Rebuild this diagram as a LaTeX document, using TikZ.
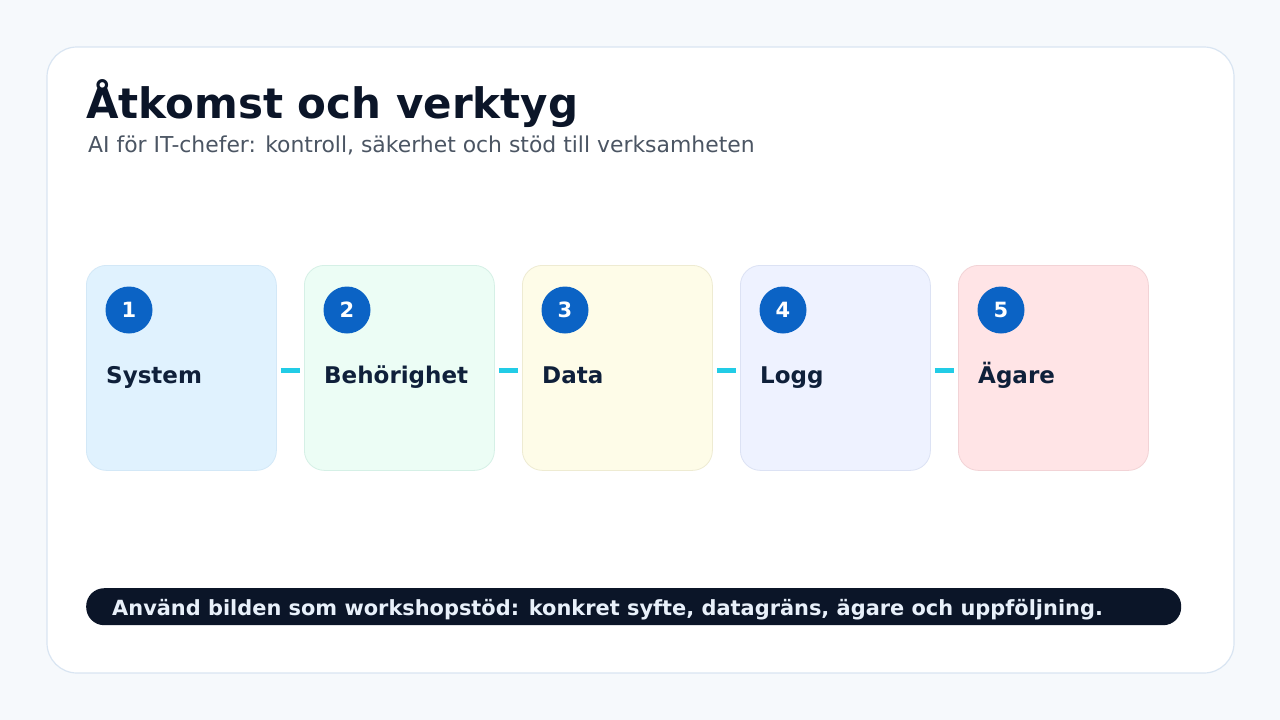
\documentclass[tikz,border=0pt]{standalone}
\usepackage{fontspec}
\setmainfont{DejaVu Sans}
\definecolor{bgc}{HTML}{F6F9FC}
\definecolor{cardline}{HTML}{D9E5F2}
\definecolor{titlec}{HTML}{0B1528}
\definecolor{subc}{HTML}{4B5563}
\definecolor{circc}{HTML}{0B63C5}
\definecolor{labc}{HTML}{0F203A}
\definecolor{conc}{HTML}{22CCE6}
\definecolor{fa}{HTML}{E0F2FE}\definecolor{la}{HTML}{D3E8F7}
\definecolor{fb}{HTML}{ECFDF5}\definecolor{lb}{HTML}{D5F0E6}
\definecolor{fc}{HTML}{FEFCE8}\definecolor{lc}{HTML}{EEEBD2}
\definecolor{fd}{HTML}{EEF2FF}\definecolor{ld}{HTML}{DCE2F4}
\definecolor{fe}{HTML}{FFE4E6}\definecolor{le}{HTML}{F2D3D6}
\definecolor{barc}{HTML}{0B1528}
\definecolor{bartext}{HTML}{E8F0FA}
\begin{document}
\begin{tikzpicture}[x=1pt,y=-1pt,
  stepbox/.style={draw=#1, line width=0.8pt, rounded corners=20pt, minimum width=190pt, minimum height=205pt, inner sep=0pt, anchor=north west},
  numcirc/.style={circle, fill=circc, minimum size=47pt, inner sep=0pt, text=white, font=\bfseries\fontsize{21}{25}\selectfont},
  boxlabel/.style={anchor=base west, inner sep=0pt, text=labc, font=\bfseries\fontsize{23}{27}\selectfont},
  conn/.style={draw=conc, line width=5pt}]
\useasboundingbox (0,0) rectangle (1280,720);
\fill[bgc] (0,0) rectangle (1280,720);
\draw[cardline, fill=white, line width=1.2pt, rounded corners=30pt] (47,47) rectangle (1234,673);
\node[anchor=base west, inner sep=0pt, text=titlec, font=\bfseries\fontsize{42}{50}\selectfont] (title) at (86,118) {Åtkomst och verktyg};
\node[anchor=base west, inner sep=0pt, text=subc, font=\fontsize{21.9}{26}\selectfont] (sub) at (88,152) {AI för IT-chefer: kontroll, säkerhet och stöd till verksamheten};
\foreach \i/\f/\l/\t in {1/fa/la/System,2/fb/lb/Behörighet,3/fc/lc/Data,4/fd/ld/Logg,5/fe/le/Ägare}{
  \pgfmathsetmacro{\xx}{86+218*(\i-1)}
  \node[stepbox=\l, fill=\f] (b\i) at (\xx,265) {};
  \node[numcirc] (c\i) at (\xx+43,310) {\i};
  \node[boxlabel] (t\i) at (\xx+20,383) {\t};
}
\foreach \a/\b in {1/2,2/3,3/4,4/5}{
  \draw[conn] ([xshift=4pt,yshift=-2.5pt]b\a.east) -- ([xshift=-4pt,yshift=-2.5pt]b\b.west);
}
\node[fill=barc, rounded corners=18pt, minimum width=1095pt, minimum height=37pt, inner sep=0pt, anchor=north west] (bar) at (86,588) {};
\node[anchor=base west, inner sep=0pt, text=bartext, font=\bfseries\fontsize{20.9}{25}\selectfont] (bartxt) at (112,615) {Använd bilden som workshopstöd: konkret syfte, datagräns, ägare och uppföljning.};
\end{tikzpicture}
\end{document}
